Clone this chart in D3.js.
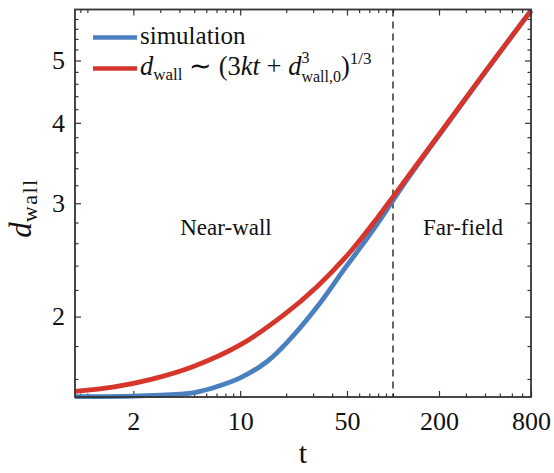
<!DOCTYPE html>
<html>
<head>
<meta charset="utf-8">
<script src="https://cdn.jsdelivr.net/npm/d3@7"></script>
</head>
<body style="margin:0">
<div class="canvas"></div>
<script>
// simulation curve
const simT = [0.83, 2, 3, 4, 5, 7, 10, 15, 21, 32, 48, 68, 86, 100, 130, 226, 400, 800];
const simD = [1.502, 1.505, 1.51, 1.516, 1.524, 1.556, 1.606, 1.703, 1.84, 2.073, 2.37, 2.65, 2.87, 3.03, 3.32, 3.98, 4.79, 5.98];

// scaling-law curve
const fitT = [0.83, 1.5, 2.57, 4.94, 10, 19.2, 31.8, 52.6, 78.6, 100, 130, 226, 400, 800];
const fitD = [1.53, 1.555, 1.596, 1.673, 1.807, 2.01, 2.226, 2.522, 2.842, 3.07, 3.34, 3.99, 4.8, 5.97];

const tMajor = [2, 10, 50, 200, 800];
const tMinor = [0.9, 1, 3, 4, 5, 6, 7, 8, 9, 20, 30, 40, 60, 70, 80, 90, 100, 300, 400, 500, 600, 700];
const dMajor = [2, 3, 4, 5];
const dMinor = [1.6, 1.8, 2.2, 2.4, 2.6, 2.8, 3.2, 3.4, 3.6, 3.8, 4.2, 4.4, 4.6, 4.8, 5.2, 5.4, 5.6, 5.8];
const tSplit = 100;

const dims = {width: 554, height: 473};
const box = {left: 75, right: 531, top: 9.5, bottom: 397};
const fontName = "'Liberation Serif', serif";

const svg = d3.select('.canvas')
    .append('svg')
    .attr('width', dims.width)
    .attr('height', dims.height)
    .style('font-family', fontName);

const x = d3.scaleLog().domain([0.83, 800]).range([box.left, box.right]);
const y = d3.scaleLog().domain([1.5, 6]).range([box.bottom, box.top]);

const axisColor = '#333';

// ticks, all pointing inward
const addAxis = (axis, tx, ty) => {
    const g = svg.append('g')
        .attr('transform', `translate(${tx}, ${ty})`)
        .call(axis)
        .attr('font-family', null)
        .attr('font-size', 26);
    g.select('.domain').remove();
    g.selectAll('line').attr('stroke', axisColor).attr('stroke-width', 1.2);
    g.selectAll('text').attr('fill', '#111');
    return g;
};

addAxis(d3.axisBottom(x).tickValues(tMajor).tickSize(-6).tickPadding(15).tickFormat(d3.format('d')), 0, box.bottom);
addAxis(d3.axisBottom(x).tickValues(tMinor).tickSize(-3.5).tickFormat(''), 0, box.bottom);
addAxis(d3.axisTop(x).tickValues(tMajor).tickSize(-6).tickFormat(''), 0, box.top);
addAxis(d3.axisTop(x).tickValues(tMinor).tickSize(-3.5).tickFormat(''), 0, box.top);

addAxis(d3.axisLeft(y).tickValues(dMajor).tickSize(-6).tickPadding(10).tickFormat(d3.format('d')), box.left, 0);
addAxis(d3.axisLeft(y).tickValues(dMinor).tickSize(-3.5).tickFormat(''), box.left, 0);
addAxis(d3.axisRight(y).tickValues(dMajor).tickSize(-6).tickFormat(''), box.right, 0);
addAxis(d3.axisRight(y).tickValues(dMinor).tickSize(-3.5).tickFormat(''), box.right, 0);

// dashed divider
svg.append('line')
    .attr('x1', x(tSplit)).attr('x2', x(tSplit))
    .attr('y1', box.top).attr('y2', box.bottom)
    .attr('stroke', '#111')
    .attr('stroke-width', 1.3)
    .attr('stroke-dasharray', '7,5');

// curves
const line = d3.line()
    .x(d => x(d[0]))
    .y(d => y(d[1]))
    .curve(d3.curveCatmullRom.alpha(0.5));

const blue = '#4a80c0';
const red = '#d6352c';

svg.append('path')
    .attr('fill', 'none')
    .attr('stroke', blue)
    .attr('stroke-width', 4.8)
    .attr('d', line(d3.zip(simT, simD)));

svg.append('path')
    .attr('fill', 'none')
    .attr('stroke', red)
    .attr('stroke-width', 4.8)
    .attr('d', line(d3.zip(fitT, fitD)));

// frame
svg.append('rect')
    .attr('x', box.left).attr('y', box.top)
    .attr('width', box.right - box.left)
    .attr('height', box.bottom - box.top)
    .attr('fill', 'none')
    .attr('stroke', axisColor)
    .attr('stroke-width', 1.8);

const label = (px, py, size, str) => svg.append('text')
    .attr('x', px).attr('y', py)
    .attr('text-anchor', 'middle')
    .attr('fill', '#111')
    .attr('font-size', size)
    .text(str);

// region labels
label(226, 235, 23, 'Near-wall');
label(463, 235, 23, 'Far-field');

// axis titles
label((box.left + box.right) / 2, 463, 30, 't');

const ylab = svg.append('text')
    .attr('transform', 'translate(31, 208) rotate(-90)')
    .attr('text-anchor', 'middle')
    .attr('fill', '#111')
    .attr('font-size', 31);
ylab.append('tspan').attr('font-style', 'italic').text('d');
ylab.append('tspan').attr('dy', 6).attr('font-size', 22).attr('letter-spacing', 1.5).text('wall');

// legend
const legend = svg.append('g');
legend.append('line')
    .attr('x1', 93).attr('x2', 137).attr('y1', 37.5).attr('y2', 37.5)
    .attr('stroke', blue).attr('stroke-width', 4.5);
legend.append('line')
    .attr('x1', 93).attr('x2', 137).attr('y1', 68.5).attr('y2', 68.5)
    .attr('stroke', red).attr('stroke-width', 4.5);

legend.append('text')
    .attr('x', 140).attr('y', 44)
    .attr('fill', '#111')
    .attr('font-size', 25)
    .text('simulation');

const lt = legend.append('text')
    .attr('x', 140).attr('y', 75)
    .attr('fill', '#111')
    .attr('font-size', 26.5);
lt.append('tspan').attr('font-style', 'italic').text('d');
lt.append('tspan').attr('dy', 5).attr('font-size', 17).text('wall');
lt.append('tspan').attr('dy', -5).text(' \u223C (3');
lt.append('tspan').attr('font-style', 'italic').text('kt');
lt.append('tspan').text(' + ');
lt.append('tspan').attr('font-style', 'italic').text('d');
lt.append('tspan').attr('dy', -12).attr('font-size', 16).text('3');
lt.append('tspan').attr('dx', -8).attr('dy', 19).attr('font-size', 16).text('wall,0');
lt.append('tspan').attr('dy', -7).text(')');
lt.append('tspan').attr('dy', -11).attr('font-size', 17).text('1/3');
</script>
</body>
</html>
